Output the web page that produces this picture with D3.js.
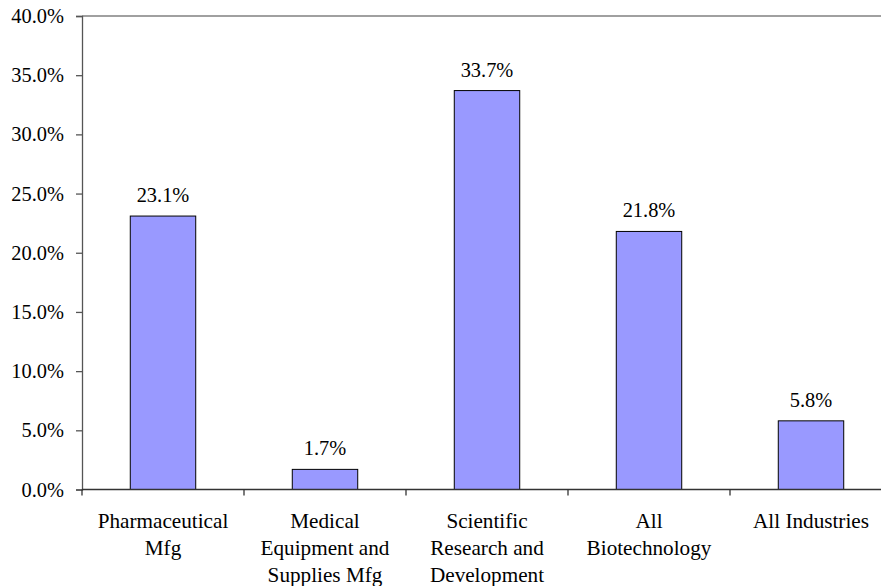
<!DOCTYPE html>
<html>
<head>
<meta charset="utf-8">
<script src="https://cdn.jsdelivr.net/npm/d3@7"></script>
<style>
  html, body { margin: 0; padding: 0; background: #fff; }
  svg { display: block; }
  #chart text, #chart tspan { font-family: 'Liberation Serif', 'Times New Roman', Tinos, serif !important; }
</style>
</head>
<body>
<svg id="chart" width="881" height="586"></svg>
<script>
// Share of employment by industry group
const categories = [
  ["Pharmaceutical", "Mfg"],
  ["Medical", "Equipment and", "Supplies Mfg"],
  ["Scientific", "Research and", "Development"],
  ["All", "Biotechnology"],
  ["All Industries"]
];
const values = [23.1, 1.7, 33.7, 21.8, 5.8];
const yTicks = [0, 5, 10, 15, 20, 25, 30, 35, 40];

const FONT = "'Liberation Serif', 'Times New Roman', Tinos, serif";
const serif = sel => sel.style("font-family", FONT, "important");

const svg = d3.select("#chart");
const plotLeft = 82, plotTop = 16, plotBottom = 489.5, plotRight = 892;

const x = d3.scaleBand()
  .domain(d3.range(categories.length))
  .range([plotLeft, plotRight])
  .paddingInner(0.596)
  .paddingOuter(0.298);

const y = d3.scaleLinear().domain([0, 40]).range([plotBottom, plotTop]);
const fmt = d => d.toFixed(1) + "%";

// top frame line
svg.append("line")
  .attr("x1", plotLeft).attr("x2", plotRight)
  .attr("y1", y(40)).attr("y2", y(40))
  .attr("stroke", "#808080").attr("stroke-width", 1.3);

// bars
svg.selectAll("rect.bar").data(values).join("rect")
  .attr("class", "bar")
  .attr("x", (d, i) => x(i))
  .attr("width", x.bandwidth())
  .attr("y", d => y(d))
  .attr("height", d => y(0) - y(d))
  .attr("fill", "#9999ff")
  .attr("stroke", "#000")
  .attr("stroke-width", 1);

// value labels
svg.selectAll("text.val").data(values).join("text")
  .attr("class", "val")
  .attr("x", (d, i) => x(i) + x.bandwidth() / 2)
  .attr("y", d => y(d) - 14)
  .attr("text-anchor", "middle")
  .attr("font-size", 20.4)
  .attr("fill", "#000")
  .call(serif)
  .text(fmt);

// y axis
const yAxis = d3.axisLeft(y).tickValues(yTicks).tickFormat(fmt).tickSize(6).tickPadding(12);
const gy = svg.append("g").attr("transform", `translate(${plotLeft},0)`).call(yAxis);
gy.attr("font-size", 20.4).call(serif);
gy.select(".domain").attr("stroke", "#555").attr("stroke-width", 1.3);
gy.selectAll(".tick line").attr("stroke", "#555").attr("stroke-width", 1.3);
gy.selectAll(".tick text").attr("fill", "#000").call(serif);

// x axis: ticks at band boundaries
const xb = d3.scaleLinear().domain([0, categories.length]).range([plotLeft, plotRight]);
const gx = svg.append("g").attr("transform", `translate(0,${plotBottom})`);
gx.append("line")
  .attr("x1", plotLeft).attr("x2", plotRight)
  .attr("stroke", "#333").attr("stroke-width", 1.3);
gx.selectAll("line.tk").data(d3.range(categories.length + 1)).join("line")
  .attr("class", "tk")
  .attr("x1", d => xb(d)).attr("x2", d => xb(d))
  .attr("y1", 0).attr("y2", 6)
  .attr("stroke", "#333").attr("stroke-width", 1.3);

// category labels
const lab = svg.selectAll("text.cat").data(categories).join("text")
  .attr("class", "cat")
  .attr("text-anchor", "middle")
  .attr("font-size", 21.2)
  .attr("fill", "#000")
  .call(serif);
lab.selectAll("tspan").data((d, i) => d.map(t => ({ t, i }))).join("tspan")
  .attr("x", d => x(d.i) + x.bandwidth() / 2)
  .attr("y", (d, j) => 528 + j * 27)
  .call(serif)
  .text(d => d.t);
</script>
</body>
</html>
